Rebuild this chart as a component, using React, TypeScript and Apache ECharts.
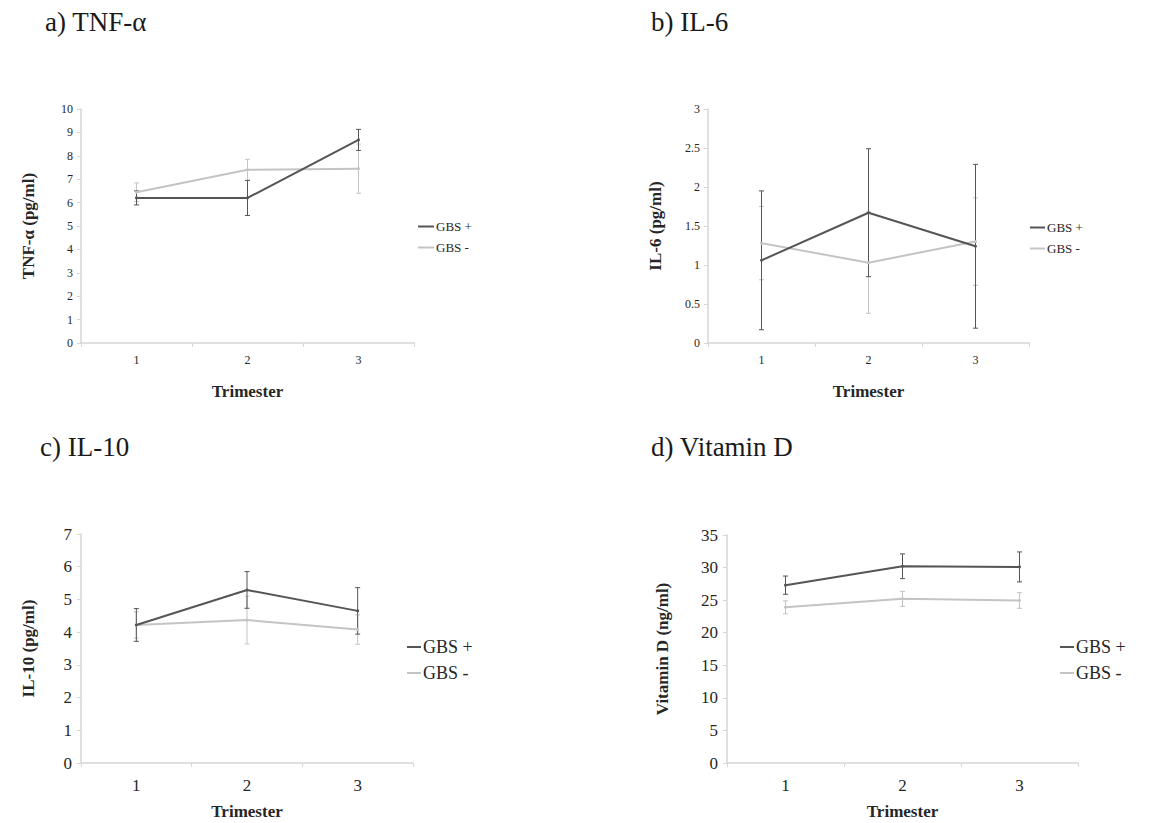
import React, { useEffect, useRef } from "react";
import * as echarts from "echarts";

const trimesters = ["1", "2", "3"];

const tnfPos = [6.2, 6.2, 8.68];
const tnfPosErr = [0.3, 0.75, 0.45];
const tnfNeg = [6.44, 7.4, 7.45];
const tnfNegErr = [0.4, 0.45, 1.05];

const il6Pos = [1.06, 1.67, 1.24];
const il6PosErr = [0.89, 0.82, 1.05];
const il6Neg = [1.28, 1.03, 1.3];
const il6NegErr = [0.47, 0.65, 0.56];

const il10Pos = [4.22, 5.29, 4.65];
const il10PosErr = [0.5, 0.56, 0.71];
const il10Neg = [4.22, 4.37, 4.08];
const il10NegErr = [0.4, 0.73, 0.45];

const vitdPos = [27.3, 30.2, 30.1];
const vitdPosErr = [1.4, 1.9, 2.3];
const vitdNeg = [23.9, 25.2, 24.95];
const vitdNegErr = [1.0, 1.15, 1.2];

const panelTitles = ["a) TNF-α", "b) IL-6", "c) IL-10", "d) Vitamin D"];
const yTitles = ["TNF-α (pg/ml)", "IL-6 (pg/ml)", "IL-10 (pg/ml)", "Vitamin D (ng/ml)"];
const yMax = [10, 3, 7, 35];
const yInterval = [1, 0.5, 1, 5];
const seriesNames = ["GBS +", "GBS -"];

const FONT = "Liberation Serif";
const DARK = "#555555";
const LIGHT = "#c4c4c4";
const TEXT = "#262626";
const AXIS = "#d6d6d6";

export default function App() {
  const ref = useRef<HTMLDivElement>(null);

  useEffect(() => {
    if (!ref.current) return;
    const chart = echarts.init(ref.current, undefined, { renderer: "svg" });

    const panels = [
      { pos: tnfPos, posErr: tnfPosErr, neg: tnfNeg, negErr: tnfNegErr },
      { pos: il6Pos, posErr: il6PosErr, neg: il6Neg, negErr: il6NegErr },
      { pos: il10Pos, posErr: il10PosErr, neg: il10Neg, negErr: il10NegErr },
      { pos: vitdPos, posErr: vitdPosErr, neg: vitdNeg, negErr: vitdNegErr },
    ];

    const grids = [
      { left: 81, top: 109, width: 333, height: 234 },
      { left: 708, top: 109, width: 321, height: 234 },
      { left: 81, top: 534, width: 332, height: 229 },
      { left: 727, top: 535, width: 351, height: 228 },
    ];

    const tickFont = [12, 12, 17, 17];
    const xLabelMargin = [11, 11, 14, 14];
    const yLabelMargin = [8, 8, 9, 9];
    const yNameGap = [44, 44, 44, 56];
    const xNameGap = [40, 40, 40, 40];

    const xAxes = grids.map((_, i) => ({
      type: "category",
      gridIndex: i,
      data: trimesters,
      boundaryGap: true,
      name: "Trimester",
      nameLocation: "middle",
      nameGap: xNameGap[i],
      nameTextStyle: { fontFamily: FONT, fontSize: 17, fontWeight: "bold", color: TEXT },
      axisLine: { lineStyle: { color: AXIS, width: 1.5 } },
      axisTick: { show: true, length: 4, lineStyle: { color: AXIS } },
      axisLabel: { fontFamily: FONT, fontSize: tickFont[i], color: TEXT, margin: xLabelMargin[i] },
      splitLine: { show: false },
    }));

    const yAxes = grids.map((_, i) => ({
      type: "value",
      gridIndex: i,
      min: 0,
      max: yMax[i],
      interval: yInterval[i],
      name: yTitles[i],
      nameLocation: "middle",
      nameGap: yNameGap[i],
      nameRotate: 90,
      nameTextStyle: { fontFamily: FONT, fontSize: 17, fontWeight: "bold", color: TEXT },
      axisLine: { show: true, lineStyle: { color: AXIS, width: 1.5 } },
      axisTick: { show: true, length: 4, lineStyle: { color: AXIS } },
      axisLabel: { fontFamily: FONT, fontSize: tickFont[i], color: TEXT, margin: yLabelMargin[i] },
      splitLine: { show: false },
    }));

    const errRender = (color: string) => (params: any, api: any) => {
      const x = api.value(0);
      const lo = api.coord([x, api.value(1)]);
      const hi = api.coord([x, api.value(2)]);
      const w = 2.5;
      const style = { stroke: color, lineWidth: 1 };
      return {
        type: "group",
        children: [
          { type: "line", shape: { x1: lo[0], y1: lo[1], x2: hi[0], y2: hi[1] }, style },
          { type: "line", shape: { x1: lo[0] - w, y1: lo[1], x2: lo[0] + w, y2: lo[1] }, style },
          { type: "line", shape: { x1: hi[0] - w, y1: hi[1], x2: hi[0] + w, y2: hi[1] }, style },
        ],
      };
    };

    const series: any[] = [];
    panels.forEach((p, i) => {
      const groups = [
        { name: seriesNames[0], vals: p.pos, err: p.posErr, color: DARK, z: 3 },
        { name: seriesNames[1], vals: p.neg, err: p.negErr, color: LIGHT, z: 2 },
      ];
      groups.forEach((g) => {
        series.push({
          type: "custom",
          name: g.name + " err",
          xAxisIndex: i,
          yAxisIndex: i,
          z: g.z,
          renderItem: errRender(g.color),
          data: g.vals.map((v, k) => [k, v - g.err[k], v + g.err[k]]),
          encode: { x: 0, y: [1, 2] },
          silent: true,
        });
        series.push({
          type: "line",
          name: g.name,
          xAxisIndex: i,
          yAxisIndex: i,
          z: g.z + 1,
          data: g.vals,
          symbol: "circle",
          symbolSize: 3,
          itemStyle: { color: g.color },
          lineStyle: { color: g.color, width: 2 },
        });
      });
    });

    const legendPos = [
      { left: 418, top: 216, lh: 21, fs: 13, iw: 16 },
      { left: 1030, top: 217, lh: 21, fs: 13, iw: 15 },
      { left: 407, top: 634, lh: 26, fs: 18, iw: 14 },
      { left: 1060, top: 634, lh: 26, fs: 18, iw: 14 },
    ];

    const legends = legendPos.map((l) => ({
      orient: "vertical",
      left: l.left,
      top: l.top,
      padding: 0,
      itemGap: 0,
      itemWidth: l.iw,
      itemHeight: 2,
      icon: "rect",
      selectedMode: false,
      data: seriesNames,
      textStyle: { fontFamily: FONT, fontSize: l.fs, color: TEXT, lineHeight: l.lh, padding: [0, 0, 0, -3] },
    }));

    const titlePos = [
      { x: 45, y: 22 },
      { x: 651, y: 22 },
      { x: 40, y: 447 },
      { x: 651, y: 447 },
    ];

    const graphic = panelTitles.map((t, i) => ({
      type: "text",
      x: titlePos[i].x,
      y: titlePos[i].y,
      style: {
        text: t,
        fontFamily: FONT,
        fontSize: 27,
        fill: "#1a1a1a",
        verticalAlign: "middle",
        align: "left",
      },
    }));

    chart.setOption({
      animation: false,
      backgroundColor: "#ffffff",
      textStyle: { fontFamily: FONT },
      grid: grids,
      xAxis: xAxes,
      yAxis: yAxes,
      legend: legends,
      series,
      graphic,
    });

    return () => chart.dispose();
  }, []);

  return (
    <div
      ref={ref}
      style={{ position: "fixed", left: 0, top: 0, width: 1151, height: 823, background: "#fff" }}
    />
  );
}
